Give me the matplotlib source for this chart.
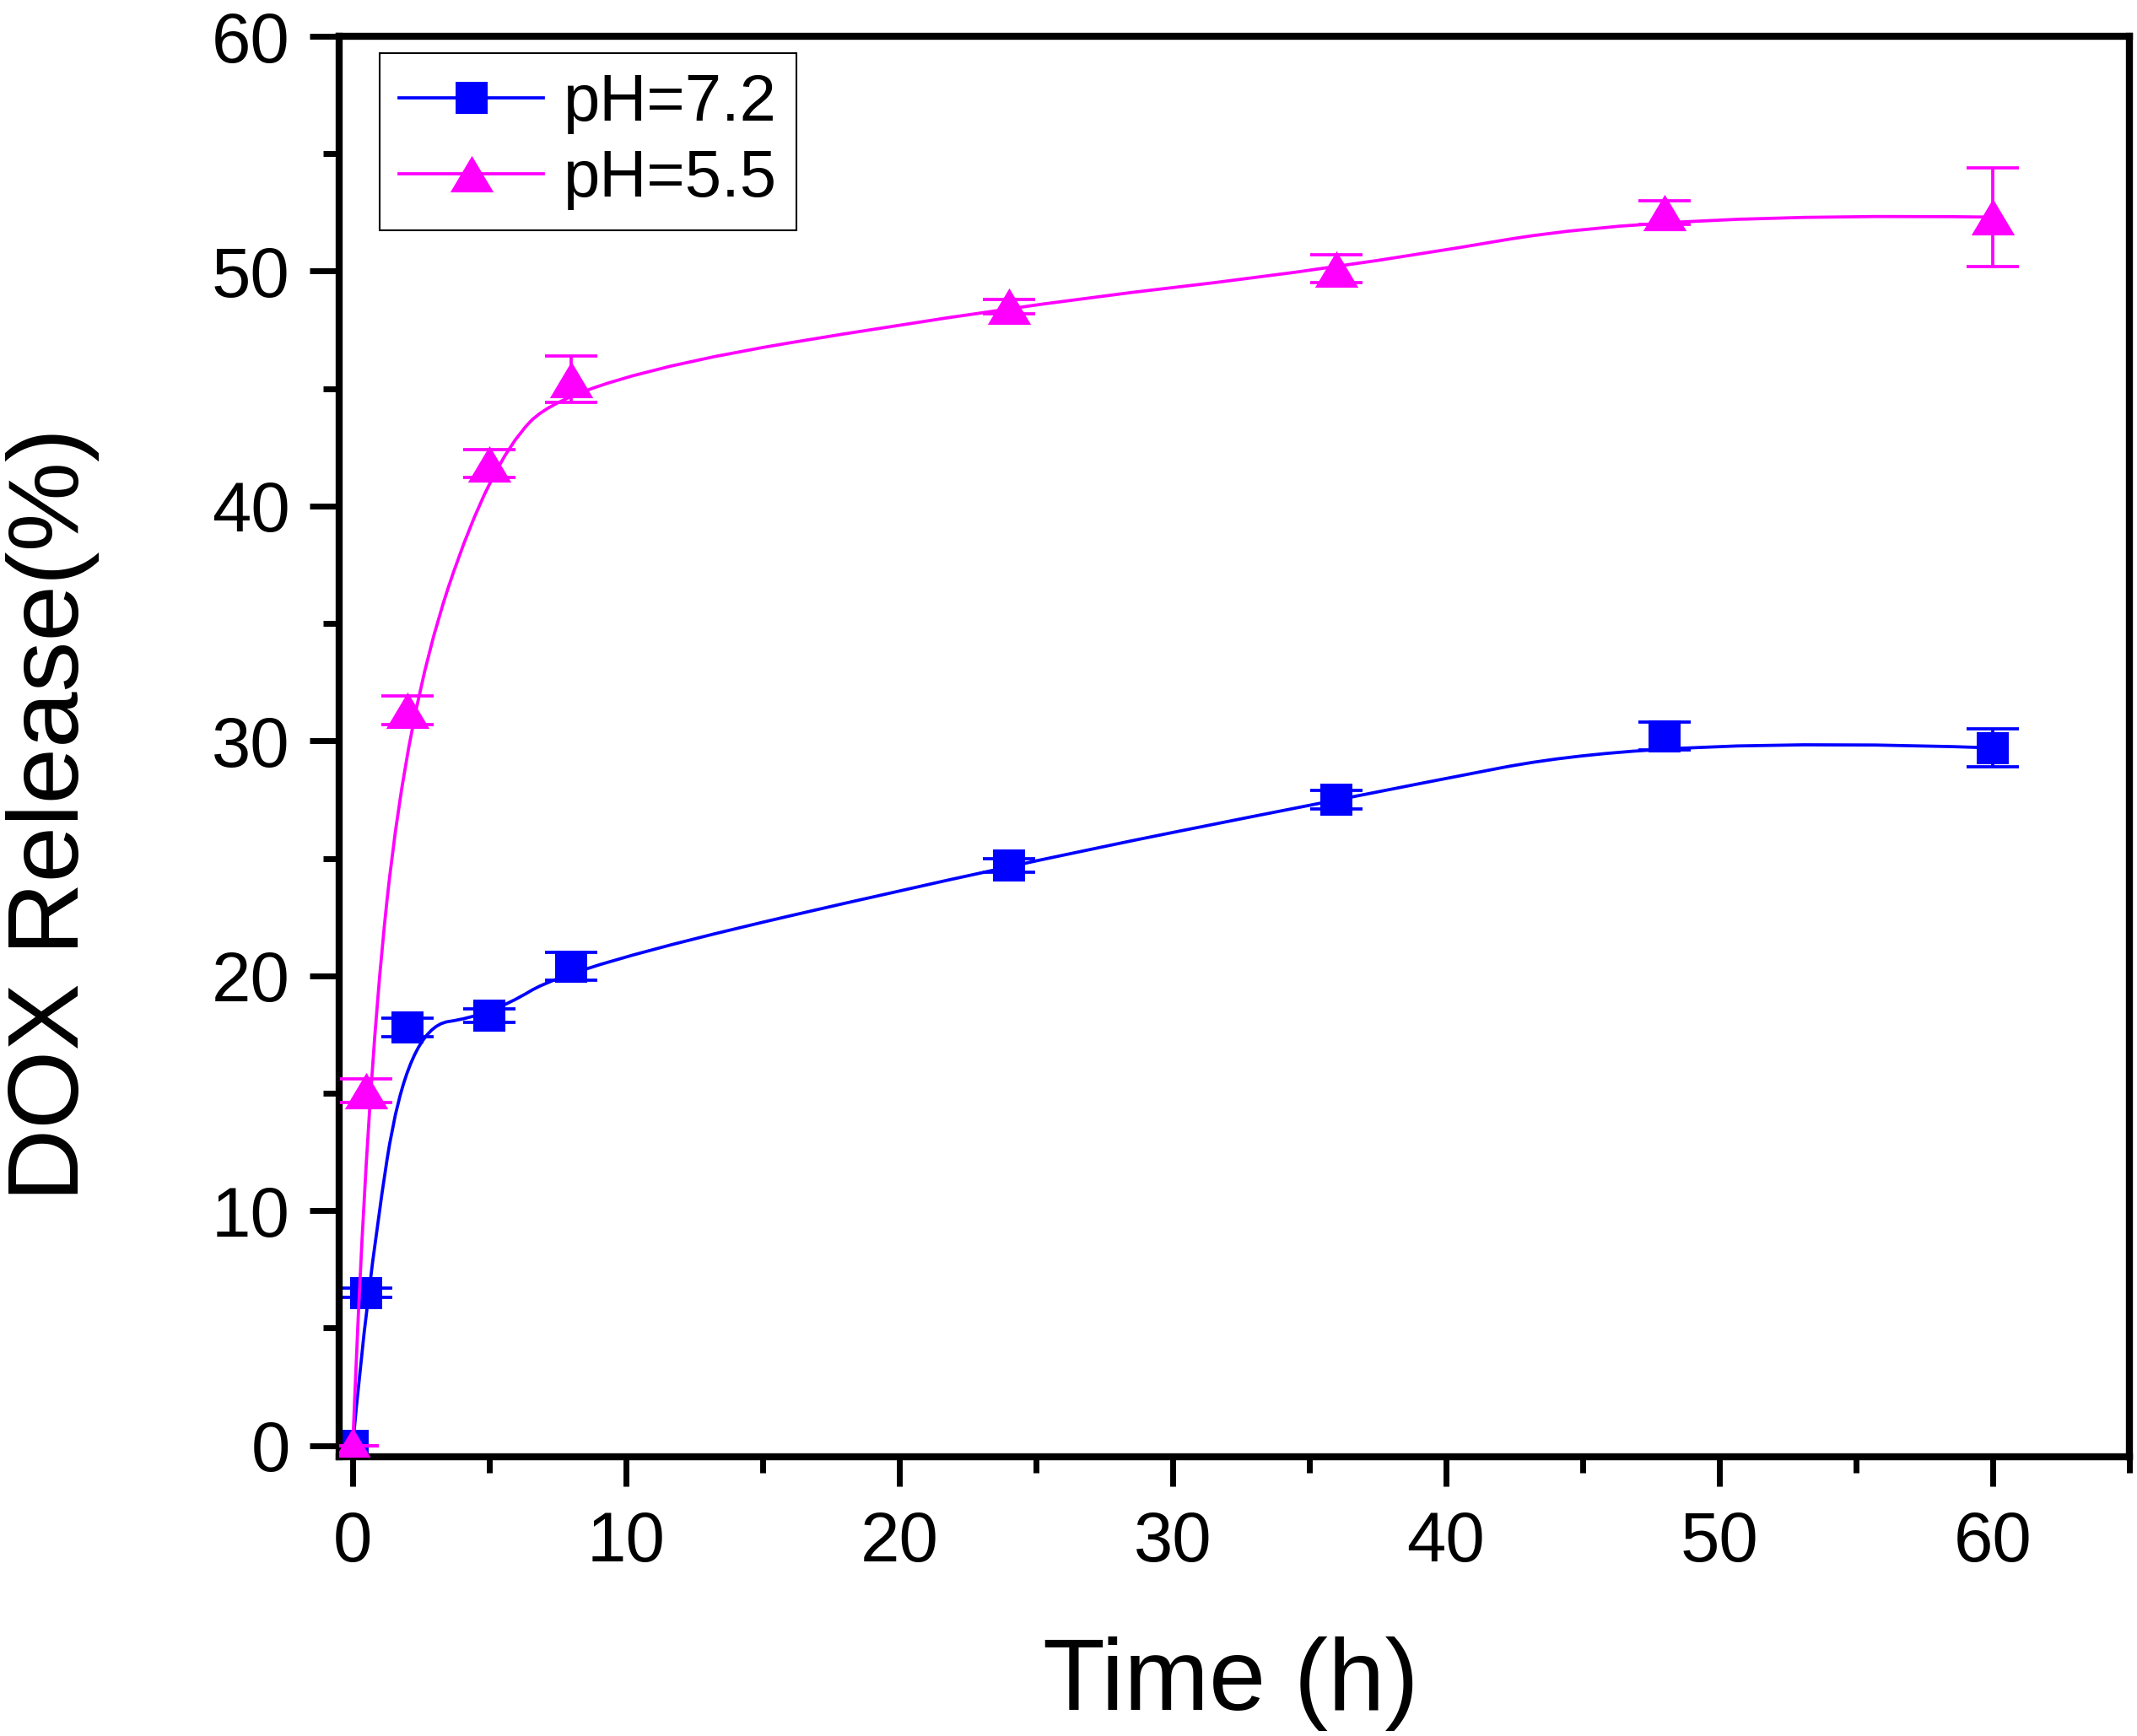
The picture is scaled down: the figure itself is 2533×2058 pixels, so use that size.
import matplotlib
matplotlib.use("Agg")
import matplotlib.pyplot as plt
from matplotlib.path import Path
from matplotlib.patches import PathPatch
from matplotlib.lines import Line2D
from matplotlib.ticker import MultipleLocator

plt.rcParams["font.family"] = ["Liberation Sans", "DejaVu Sans"]

# --- data ---
time_h = [0, 0.5, 2, 5, 8, 24, 36, 48, 60]

ph72_release = [0.0, 6.5, 17.8, 18.3, 20.4, 24.7, 27.5, 30.2, 29.7]
ph72_err = [0.0, 0.2, 0.4, 0.3, 0.6, 0.3, 0.4, 0.6, 0.8]

ph55_release = [0.0, 15.1, 31.3, 41.8, 45.4, 48.5, 50.1, 52.5, 52.3]
ph55_err = [0.0, 0.5, 0.6, 0.6, 1.0, 0.3, 0.6, 0.5, 2.1]

series_labels = ["pH=7.2", "pH=5.5"]
BLUE = "#0000FF"
MAGENTA = "#FF00FF"
TRIANGLE = [(0, 0.84), (-1, -0.84), (1, -0.84)]


def bspline_path(x, y):
    """Quadratic B-spline through the data (Origin-style smooth connection)."""
    pts = list(zip(x, y))
    verts = [pts[0]]
    codes = [Path.MOVETO]
    for i in range(1, len(pts) - 2):
        mid = ((pts[i][0] + pts[i + 1][0]) / 2, (pts[i][1] + pts[i + 1][1]) / 2)
        verts += [pts[i], mid]
        codes += [Path.CURVE3, Path.CURVE3]
    verts += [pts[-2], pts[-1]]
    codes += [Path.CURVE3, Path.CURVE3]
    return Path(verts, codes)


fig = plt.figure(figsize=(25.33, 20.58), dpi=100)
ax = fig.add_axes([0.1587, 0.1606, 0.9964 - 0.1587, 0.9791 - 0.1606])

for y, err, color, marker, ms, z in [
    (ph72_release, ph72_err, BLUE, "s", 27, 2),
    (ph55_release, ph55_err, MAGENTA, TRIANGLE, 37, 4),
]:
    ax.add_patch(PathPatch(bspline_path(time_h, y), facecolor="none",
                           edgecolor=color, lw=2.7, zorder=z))
    ax.errorbar(time_h, y, yerr=err, fmt="none", ecolor=color,
                elinewidth=2.7, capsize=22.5, capthick=2.7, zorder=z)
    ax.plot(time_h, y, ls="none", marker=marker, ms=ms, color=color,
            mec=color, mew=0, zorder=z + 0.5)

ax.set_xlim(-0.5, 65)
ax.set_ylim(-0.5, 60)
ax.xaxis.set_major_locator(MultipleLocator(10))
ax.xaxis.set_minor_locator(MultipleLocator(5))
ax.yaxis.set_major_locator(MultipleLocator(10))
ax.yaxis.set_minor_locator(MultipleLocator(5))

for s in ax.spines.values():
    s.set_linewidth(6)
ax.tick_params(which="both", direction="out", width=5, top=False, right=False)
ax.tick_params(which="major", length=25, labelsize=60)
ax.tick_params(which="minor", length=14)
ax.tick_params(axis="x", which="major", pad=20)
ax.tick_params(axis="y", which="major", pad=17)

fig.text(0.576, 0.0151, "Time (h)", fontsize=87, ha="center", va="baseline")
fig.text(0.0245, 0.531, "DOX Release(%)", fontsize=86, rotation=90,
         ha="center", va="center")

handles = [
    Line2D([], [], color=BLUE, lw=2.7, marker="s", ms=27, mew=0),
    Line2D([], [], color=MAGENTA, lw=2.7, marker=TRIANGLE, ms=37, mew=0),
]
leg = ax.legend(handles, series_labels, loc="upper left",
                bbox_to_anchor=(450 / 2533, 1 - 63 / 2058),
                bbox_transform=fig.transFigure, borderaxespad=0,
                fontsize=56, fancybox=False, framealpha=1, edgecolor="black",
                handlelength=2.2, handletextpad=0.3, borderpad=0.3,
                labelspacing=0.22)
leg.get_frame().set_linewidth(1.5)

fig.savefig("out.png", dpi=100, facecolor="white")
